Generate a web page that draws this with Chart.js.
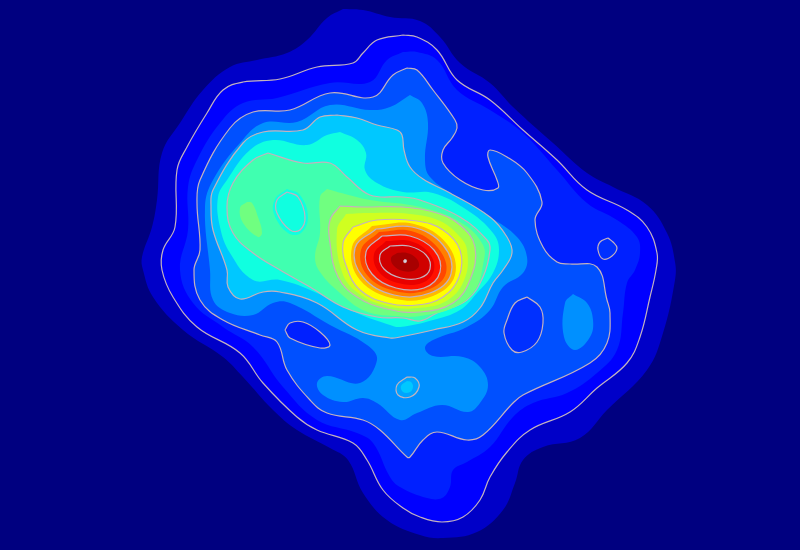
<!DOCTYPE html>
<html><head><meta charset="utf-8">
<style>html,body{margin:0;padding:0;background:#000080;overflow:hidden}canvas{display:block}</style>
<script src="https://cdn.jsdelivr.net/npm/chart.js@4"></script>
</head><body><canvas id="c" width="800" height="550"></canvas>
<script>
const level01=[[343,9],[363,10],[390,17],[420,21],[440,37],[460,63],[490,83],[513,107],[553,143],[587,173],[613,187],[647,205],[667,233],[675,262],[675,280],[663,333],[647,370],[607,410],[580,438],[543,447],[523,460],[515,483],[503,510],[477,532],[443,538],[420,535],[387,520],[363,493],[348,460],[330,448],[297,430],[273,410],[243,377],[223,357],[183,330],[153,297],[143,270],[142,257],[152,227],[157,200],[162,153],[180,123],[203,90],[230,67],[257,60],[287,53],[307,40],[327,18],[343,9]];
const level02=[[403,35],[417,37],[437,50],[457,80],[490,100],[523,130],[557,160],[587,190],[627,210],[647,227],[657,253],[656,270],[650,297],[640,337],[627,363],[597,388],[570,412],[530,430],[507,452],[490,477],[480,500],[463,517],[442,522],[420,517],[403,508],[383,490],[367,460],[353,443],[317,430],[297,417],[263,383],[240,353],[197,327],[173,297],[162,270],[163,250],[175,227],[177,170],[187,147],[207,113],[223,90],[243,82],[280,79],[317,67],[353,63],[363,53],[377,40],[403,35]];
const level03=[[403,52],[417,52],[437,60],[457,90],[490,110],[523,133],[557,170],[587,203],[617,220],[637,237],[640,253],[635,270],[627,283],[623,313],[617,350],[597,373],[567,393],[533,403],[513,417],[490,447],[467,462],[453,470],[450,487],[442,498],[427,498],[400,487],[390,477],[373,443],[357,433],[317,420],[283,387],[253,347],[223,327],[193,303],[180,270],[188,230],[188,187],[197,160],[220,123],[243,103],[277,98],[330,83],[370,82],[387,60],[403,52]];
const level04=[[407,68],[417,70],[433,90],[455,120],[457,128],[452,138],[443,150],[443,163],[460,180],[483,190],[498,188],[497,180],[488,157],[490,150],[507,157],[527,173],[542,202],[535,220],[543,247],[557,262],[570,264],[597,267],[607,300],[610,313],[607,343],[590,363],[523,395],[513,403],[483,435],[467,440],[437,432],[423,440],[410,457],[407,457],[380,430],[363,420],[327,413],[310,400],[287,370],[277,342],[260,335],[223,320],[200,300],[194,270],[200,250],[197,203],[200,180],[230,128],[253,112],[290,110],[330,93],[373,97],[393,75],[407,68]];
const level05=[[410,95],[422,103],[428,123],[425,160],[430,177],[457,197],[490,217],[517,237],[527,257],[523,273],[503,287],[490,310],[467,327],[433,340],[425,348],[433,356],[463,357],[480,367],[488,385],[480,403],[468,412],[442,405],[417,413],[400,420],[377,403],[363,398],[343,402],[323,395],[317,383],[327,376],[360,383],[377,360],[367,345],[330,325],[290,303],[273,303],[253,315],[230,313],[213,300],[210,270],[205,207],[213,180],[240,143],[263,123],[297,122],[330,105],[370,110],[390,107],[410,95]];
const island05=[[573,294],[565,303],[564,337],[575,350],[590,337],[593,320],[587,303],[573,294]];
const hole04a=[[285,330],[290,323],[303,322],[320,332],[330,345],[320,348],[290,338],[285,330]];
const hole04b=[[527,297],[515,303],[507,320],[504,333],[512,350],[522,352],[537,342],[543,323],[540,307],[527,297]];
const peak04=[[608,238],[600,242],[598,250],[603,259],[612,256],[617,248],[613,242],[608,238]];
const ring06=[[407,377],[397,385],[398,395],[410,397],[419,387],[415,378],[407,377]];
const spot06=[[407,381],[401,386],[403,392],[410,392],[413,387],[411,382],[407,381]];
const level06=[[337,115],[357,118],[377,125],[397,130],[402,135],[404,150],[410,167],[423,179],[450,193],[490,217],[507,237],[512,253],[503,270],[493,283],[480,308],[463,322],[433,330],[400,337],[390,338],[357,330],[317,303],[280,292],[263,292],[240,299],[228,287],[227,270],[213,230],[211,207],[213,190],[243,143],[263,132],[303,130],[320,117],[337,115]];
const level07=[[340,132],[357,140],[366,153],[365,170],[377,183],[403,192],[433,193],[467,210],[493,233],[499,250],[493,273],[477,293],[460,310],[433,320],[400,327],[390,325],[357,313],[317,293],[280,280],[253,280],[230,253],[220,227],[218,197],[227,180],[250,150],[273,140],[307,145],[327,135],[340,132]];
const level08=[[268,153],[303,163],[330,163],[347,177],[370,195],[403,197],[420,200],[460,217],[487,240],[490,250],[483,277],[467,300],[437,313],[420,321],[403,318],[377,317],[343,307],[310,287],[280,270],[253,253],[233,233],[227,207],[233,183],[253,160],[268,153]];
const hole08outer=[[287,189],[275,199],[274,214],[288,233],[301,233],[308,217],[300,195],[287,189]];
const hole08=[[287,192],[277,200],[277,213],[290,230],[300,230],[305,217],[298,197],[287,192]];
const patch09=[[247,202],[240,208],[243,223],[258,237],[262,233],[258,217],[252,203],[247,202]];
const level09=[[327,189],[345,194],[370,200],[420,207],[460,222],[483,245],[483,265],[475,290],[455,307],[420,316],[395,316],[365,311],[340,293],[320,272],[315,257],[320,233],[320,197],[327,189]];
const level10=[[340,206],[363,207],[403,207],[437,213],[460,225],[475,247],[470,280],[453,303],[420,312],[387,309],[357,297],[338,277],[330,243],[330,220],[340,206]];
const level11=[[346,214],[370,213],[410,214],[440,221],[460,237],[467,250],[465,278],[448,300],[418,308],[387,306],[358,293],[342,272],[337,230],[346,214]];
const level12=[[353,227],[377,220],[417,221],[443,230],[460,250],[459,277],[443,297],[417,305],[387,303],[360,290],[347,268],[343,243],[353,227]];
const level13=[[372,226],[414,224],[447,244],[455,275],[433,296],[396,299],[360,280],[352,247],[372,226]];
const level14=[[376,229],[412,227],[443,245],[451,274],[430,293],[394,295],[363,277],[355,248],[376,229]];
const level15=[[379,232],[411,231],[438,248],[446,273],[427,290],[395,291],[367,275],[361,250],[379,232]];
const level16=[[382,236],[410,236],[434,250],[440,272],[424,288],[396,288],[372,274],[366,252],[382,236]];
const level17=[[386,241],[410,241],[429,253],[434,270],[422,283],[398,283],[379,272],[374,254],[386,241]];
const level18=[[390,246],[409,246],[426,255],[430,269],[420,278],[401,278],[384,269],[380,255],[390,246]];
const level19=[[397,253],[407,253],[416,258],[419,266],[413,271],[403,271],[394,266],[391,258],[397,253]];
const level20=[[404,260],[406,260],[406,262],[404,262],[404,260]];

const lineColor='#c4b2be';
const layers=[
 [level01,'#0000c8',0],[level02,'#0000ff',1],[level03,'#0020ff',0],[level04,'#0050ff',1],
 [peak04,'#0030ff',1],[hole04a,'#0020ff',1],[hole04b,'#0030ff',1],
 [level05,'#0090ff',0],[island05,'#0090ff',0],[ring06,'#00a4ff',1],[spot06,'#00c8ff',0],
 [level06,'#00c8ff',1],[level07,'#10ffe0',0],[level08,'#40ffb0',1],
 [hole08outer,'#10ffe0',0],[hole08,'#10ffe0',1],[patch09,'#70ff80',0],
 [level09,'#70ff80',0],[level10,'#a0ff50',1],[level11,'#d0ff20',0],[level12,'#ffff00',1],
 [level13,'#ffb900',0],[level14,'#ff8000',1],[level15,'#ff4700',0],[level16,'#ff1000',1],
 [level17,'#e80000',0],[level18,'#d00000',1],[level19,'#a80000',0],[level20,'#ffffff',1]
];
new Chart(document.getElementById('c'),{
 type:'scatter',
 data:{datasets:layers.map(([pts,color,line],i)=>({
   data:pts.map(([x,y])=>({x,y})),
   showLine:true,fill:'shape',backgroundColor:color,
   borderColor:line?lineColor:color,borderWidth:line?1.2:0,
   tension:0.4,pointRadius:0,order:layers.length-i
 }))},
 options:{responsive:false,animation:false,events:[],
  layout:{padding:0},
  plugins:{legend:{display:false},title:{display:false},tooltip:{enabled:false}},
  scales:{x:{type:'linear',min:0,max:800,display:false},y:{type:'linear',min:0,max:550,reverse:true,display:false}}
 }
});
</script></body></html>
